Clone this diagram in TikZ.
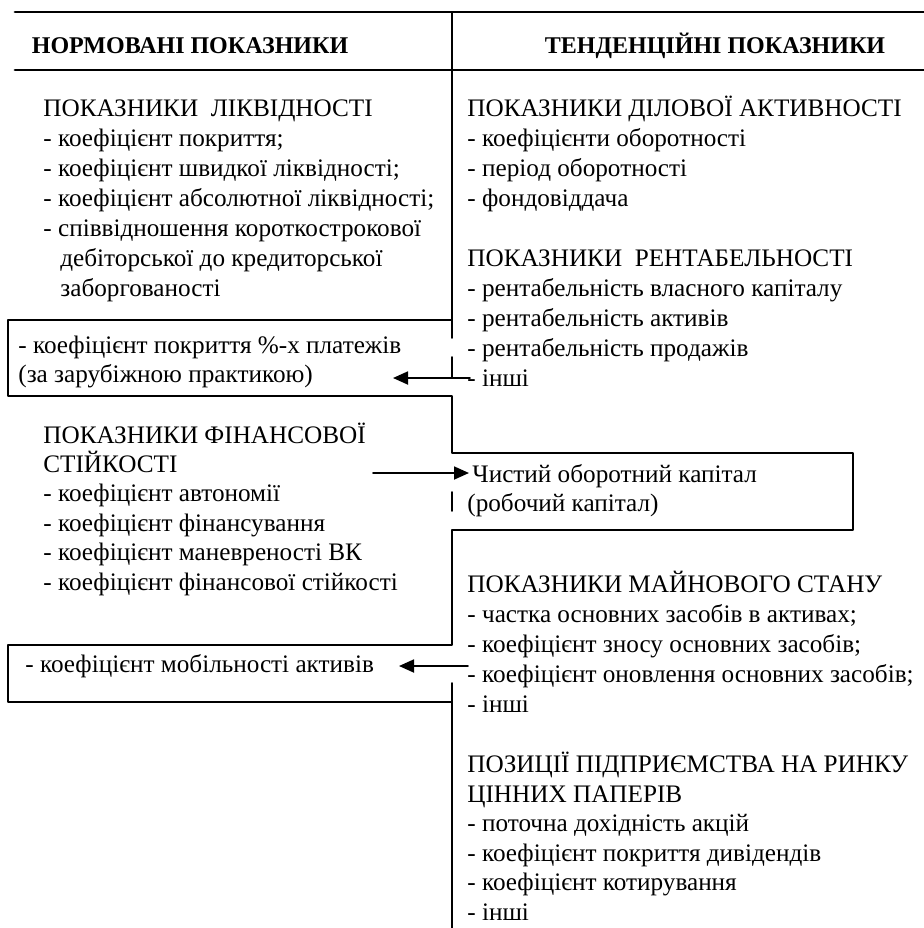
\documentclass[tikz,border=0pt]{standalone}
\usepackage{fontspec}
\setmainfont{Liberation Serif}
\usetikzlibrary{arrows.meta}

\begin{document}
\begin{tikzpicture}[line cap=round,line join=round,x=0.5pt,y=-0.5pt,
  txt/.style={anchor=base west,inner sep=0pt,font=\fontsize{12.6}{14}\selectfont},
  head/.style={anchor=base,inner sep=0pt,font=\fontsize{12}{14}\selectfont\bfseries},
  rule/.style={line width=0.9pt},
  arr/.style={line width=0.9pt,-{Triangle[length=7.5pt,width=6.5pt]}}]
  \useasboundingbox (0,0) rectangle (924,928);
  % header
  \draw[line width=1.4pt] (15,12) -- (924,12);
  \draw[line width=1.4pt] (15,70) -- (924,70);
  \node[head] (hnorm) at (190,53) {НОРМОВАНІ ПОКАЗНИКИ};
  \node[head] (htend) at (715,53) {ТЕНДЕНЦІЙНІ ПОКАЗНИКИ};
  % divider and boxes
  \draw[rule] (452,12) -- (452,338);
  \draw[rule] (452,357) -- (452,378);
  \draw[rule] (452,320) -- (8,320) -- (8,396) -- (452,396) -- (452,453) -- (853,453)
    -- (853,530) -- (452,530) -- (452,645) -- (8,645) -- (8,702) -- (452,702);
  \draw[rule] (452,492) -- (452,511);
  \draw[rule] (452,683) -- (452,928);
  % left column
  \node[txt] (liq) at (43,116) {ПОКАЗНИКИ\ \ ЛІКВІДНОСТІ};
  \foreach \t [count=\i] in {{- коефіцієнт покриття;},{- коефіцієнт швидкої ліквідності;},
      {- коефіцієнт абсолютної ліквідності;},{- співвідношення короткострокової}}
    \node[txt] (liq\i) at (43,116+30*\i) {\t};
  \node[txt] (liq5) at (60,266) {дебіторської до кредиторської};
  \node[txt] (liq6) at (60,296) {заборгованості};
  \node[txt] (pct1) at (18,353) {- коефіцієнт покриття \%-х платежів};
  \node[txt] (pct2) at (18,382) {(за зарубіжною практикою)};
  \node[txt] (fin) at (43,443) {ПОКАЗНИКИ ФІНАНСОВОЇ};
  \node[txt] (fin0) at (43,472) {СТІЙКОСТІ};
  \foreach \t [count=\i] in {{- коефіцієнт автономії},{- коефіцієнт фінансування},
      {- коефіцієнт маневреності ВК},{- коефіцієнт фінансової стійкості}}
    \node[txt] (fin\i) at (43,472+29.5*\i) {\t};
  \node[txt] (mob) at (25,672) {- коефіцієнт мобільності активів};
  % right column
  \node[txt] (act) at (467,116) {ПОКАЗНИКИ ДІЛОВОЇ АКТИВНОСТІ};
  \foreach \t [count=\i] in {{- коефіцієнти оборотності},{- період оборотності},{- фондовіддача}}
    \node[txt] (act\i) at (467,116+30*\i) {\t};
  \node[txt] (rent) at (467,266) {ПОКАЗНИКИ\ \ РЕНТАБЕЛЬНОСТІ};
  \foreach \t [count=\i] in {{- рентабельність власного капіталу},{- рентабельність активів},
      {- рентабельність продажів},{- інші}}
    \node[txt] (rent\i) at (467,266+30*\i) {\t};
  \node[txt] (chist) at (472,482) {Чистий оборотний капітал};
  \node[txt] (rob) at (467,511) {(робочий капітал)};
  \node[txt] (main) at (467,592) {ПОКАЗНИКИ МАЙНОВОГО СТАНУ};
  \foreach \t [count=\i] in {{- частка основних засобів в активах;},{- коефіцієнт зносу основних засобів;},
      {- коефіцієнт оновлення основних засобів;},{- інші}}
    \node[txt] (main\i) at (467,592+30*\i) {\t};
  \node[txt] (poz) at (467,772) {ПОЗИЦІЇ ПІДПРИЄМСТВА НА РИНКУ};
  \node[txt] (poz0) at (467,802) {ЦІННИХ ПАПЕРІВ};
  \foreach \t [count=\i] in {{- поточна дохідність акцій},{- коефіцієнт покриття дивідендів},
      {- коефіцієнт котирування},{- інші}}
    \node[txt] (poz\i) at (467,802+29.5*\i) {\t};
  % arrows
  \coordinate (aTail) at (470,378);
  \coordinate (aTip) at (393,378);
  \coordinate (bTail) at (373,473);
  \coordinate (bTip) at (469,473);
  \coordinate (cTail) at (468,666);
  \coordinate (cTip) at (399,666);
  \draw[arr] (aTail) -- (aTip);
  \draw[arr] (bTail) -- (bTip);
  \draw[arr] (cTail) -- (cTip);
\end{tikzpicture}
\end{document}
